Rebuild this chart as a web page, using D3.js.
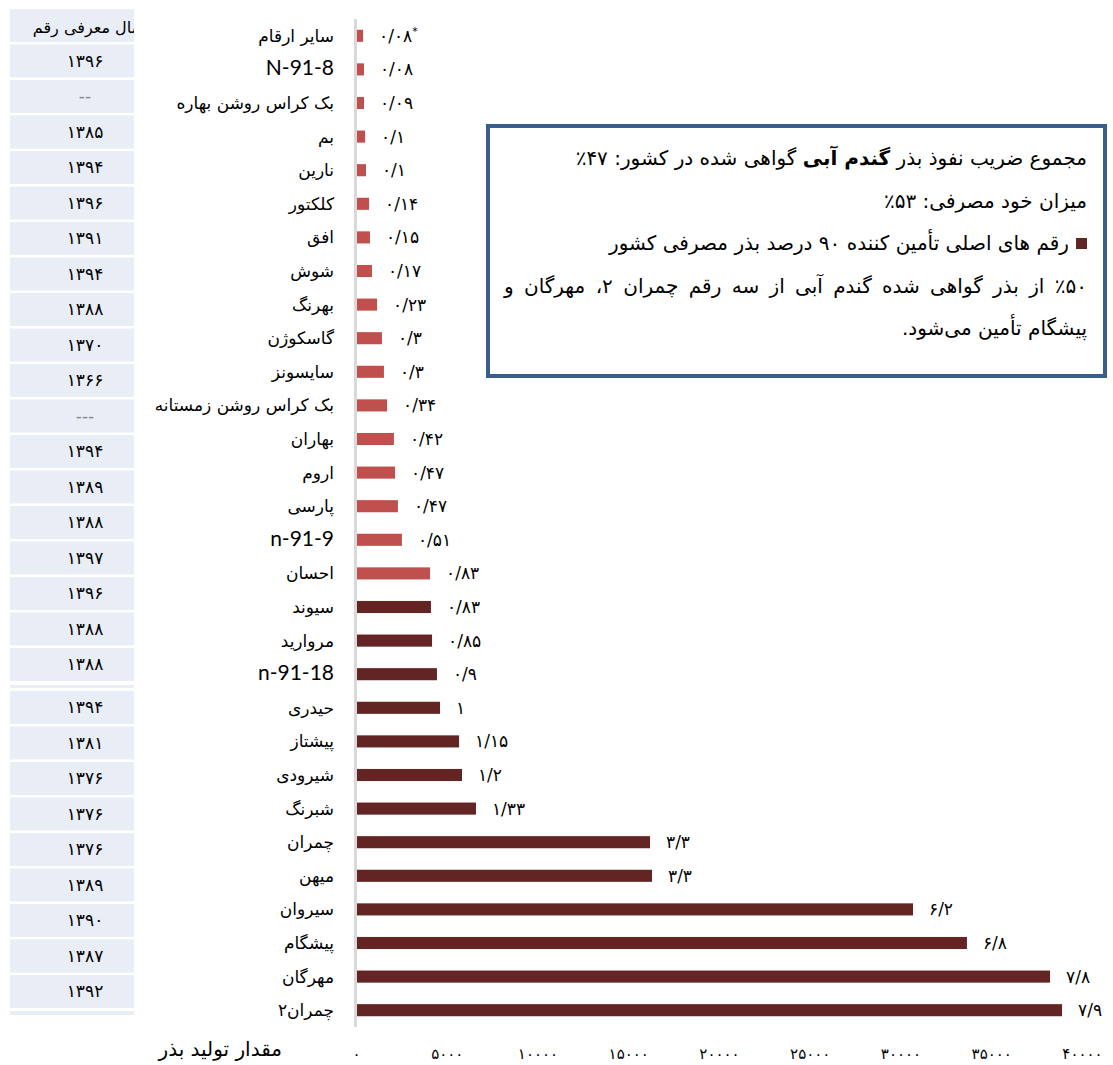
<!DOCTYPE html>
<html>
<head>
<meta charset="utf-8">
<script src="https://cdn.jsdelivr.net/npm/d3@7"></script>
<style>
  body { margin: 0; background: #fff; }
  #wrap { position: relative; width: 1113px; height: 1065px; overflow: hidden; }
  svg { position: absolute; left: 0; top: 0; }
  .fa { font-family: "DejaVu Sans", sans-serif; }
  #note { position: absolute; left: 486px; top: 124px; width: 621px; height: 254px; box-sizing: border-box;
          border: 4px solid #3a5e8c; background: #fff; padding: 9px 16px 0 14px;
          font-family: "DejaVu Sans", sans-serif; font-size: 20px; color: #000; direction: rtl; }
  #note div { height: 42.5px; line-height: 42.5px; white-space: nowrap; }
  #note .just { text-align: justify; text-align-last: justify; }
  #note .sq { display: inline-block; width: 11px; height: 11px; background: #632523; margin-left: 7px; vertical-align: 1px; }
</style>
</head>
<body>
<div id="wrap">
<svg id="chart" width="1113" height="1065"></svg>
<div id="note">
  <div>مجموع ضریب نفوذ بذر <b>گندم آبی</b> گواهی شده در کشور: ۴۷٪</div>
  <div>میزان خود مصرفی: ۵۳٪</div>
  <div><span class="sq"></span>رقم های اصلی تأمین کننده ۹۰ درصد بذر مصرفی کشور</div>
  <div class="just">٪۵۰ از بذر گواهی شده گندم آبی از سه رقم چمران ۲، مهرگان و</div>
  <div>پیشگام تأمین می‌شود.</div>
</div>
</div>
<script>
// varieties, top to bottom
var varieties = ["سایر ارقام", "N-91-8", "بک کراس روشن بهاره", "بم", "نارین", "کلکتور", "افق", "شوش",
  "بهرنگ", "گاسکوژن", "سایسونز", "بک کراس روشن زمستانه", "بهاران", "اروم", "پارسی", "n-91-9",
  "احسان", "سیوند", "مروارید", "n-91-18", "حیدری", "پیشتاز", "شیرودی", "شبرنگ", "چمران", "میهن",
  "سیروان", "پیشگام", "مهرگان", "چمران۲"];

// seed production
var production = [390, 440, 440, 500, 550, 720, 770, 880, 1160, 1430, 1540, 1710, 2090, 2150, 2310, 2530,
  4080, 4130, 4190, 4460, 4630, 5680, 5840, 6610, 16200, 16310, 30690, 33660, 38240, 38900];

// share labels (percent)
var shares = [0.08, 0.08, 0.09, 0.1, 0.1, 0.14, 0.15, 0.17, 0.23, 0.3, 0.3, 0.34, 0.42, 0.47, 0.47, 0.51,
  0.83, 0.83, 0.85, 0.9, 1, 1.15, 1.2, 1.33, 3.3, 3.3, 6.2, 6.8, 7.8, 7.9];

// main varieties (90% of consumed seed)
var mainVarieties = ["سیوند", "مروارید", "n-91-18", "حیدری", "پیشتاز", "شیرودی", "شبرنگ", "چمران", "میهن",
  "سیروان", "پیشگام", "مهرگان", "چمران۲"];

// side table: year of introduction
var tableHeader = "سال معرفی رقم";
var yearsBlock1 = ["1396", "--", "1385", "1394", "1396", "1391", "1394", "1388", "1370", "1366", "---",
  "1394", "1389", "1388", "1397", "1396", "1388", "1388"];
var yearsBlock2 = ["1394", "1381", "1376", "1376", "1376", "1389", "1390", "1387", "1392"];

var xTicks = [0, 5000, 10000, 15000, 20000, 25000, 30000, 35000, 40000];

function fa(s) {
  return String(s).replace(/\d/g, function(d) { return "۰۱۲۳۴۵۶۷۸۹"[+d]; });
}

var data = varieties.map(function(v, i) {
  return { name: v, value: production[i], share: shares[i] };
});

var svg = d3.select("#chart");

var xScale = d3.scaleLinear().domain([0, 40000]).range([356, 1082]),
    yScale = d3.scaleBand().domain(varieties).range([19, 1027]).paddingInner(0.64).paddingOuter(0.32);

// side table
var cellW = 124, cellH = 33, pitch = 35.5;
var tbl = svg.append("g").attr("transform", "translate(10,0)");
var clip = svg.append("clipPath").attr("id", "hdrclip");
clip.append("rect").attr("x", 10).attr("y", 9).attr("width", cellW).attr("height", cellH);

tbl.append("rect").attr("x", 0).attr("y", 9).attr("width", cellW).attr("height", cellH).attr("fill", "#e9edf5");
svg.append("text").attr("class", "fa")
  .attr("clip-path", "url(#hdrclip)")
  .attr("x", 145).attr("y", 33)
  .attr("text-anchor", "end")
  .style("font-size", "16px")
  .text(tableHeader);

function block(years, y0) {
  var g = tbl.append("g");
  var cells = g.selectAll("g").data(years).enter().append("g")
    .attr("transform", function(d, i) { return "translate(0," + (y0 + i * pitch) + ")"; });
  cells.append("rect").attr("width", cellW).attr("height", cellH).attr("fill", "#e9edf5");
  cells.append("text").attr("class", "fa")
    .attr("x", 75).attr("y", 22)
    .attr("text-anchor", "middle")
    .style("font-size", "17px")
    .attr("fill", function(d) { return d.indexOf("-") >= 0 ? "#888" : "#000"; })
    .text(function(d) { return fa(d); });
}
block(yearsBlock1, 9 + pitch);
tbl.append("rect").attr("x", 0).attr("y", 685).attr("width", cellW).attr("height", 3).attr("fill", "#e9edf5");
block(yearsBlock2, 691);
tbl.append("rect").attr("x", 0).attr("y", 1011).attr("width", cellW).attr("height", 4).attr("fill", "#e9edf5");

// bars
svg.selectAll(".bar").data(data).enter().append("rect")
  .attr("class", "bar")
  .attr("x", xScale(0))
  .attr("y", function(d) { return yScale(d.name); })
  .attr("width", function(d) { return xScale(d.value) - xScale(0); })
  .attr("height", yScale.bandwidth())
  .attr("fill", function(d) { return mainVarieties.indexOf(d.name) >= 0 ? "#632523" : "#c0504d"; });

// category axis line
svg.append("line")
  .attr("x1", 355.5).attr("x2", 355.5)
  .attr("y1", yScale.range()[0]).attr("y2", yScale.range()[1])
  .attr("stroke", "#d9d9d9").attr("stroke-width", 3);

// category labels
svg.selectAll(".cat").data(data).enter().append("text")
  .attr("class", "cat")
  .attr("x", 334)
  .attr("y", function(d) { return yScale(d.name) + yScale.bandwidth() / 2 + 6; })
  .attr("text-anchor", "end")
  .style("font-family", function(d) { return /[A-Za-z]/.test(d.name) ? "Lato, sans-serif" : "'DejaVu Sans', sans-serif"; })
  .style("font-size", function(d) { return /[A-Za-z]/.test(d.name) ? "21px" : "17px"; })
  .text(function(d) { return d.name; });

// value labels
var lbl = svg.selectAll(".val").data(data).enter().append("text")
  .attr("class", "val fa")
  .attr("x", function(d) { return xScale(d.value) + 16; })
  .attr("y", function(d) { return yScale(d.name) + yScale.bandwidth() / 2 + 6; })
  .style("font-size", "17px");
lbl.append("tspan").text(function(d) { return fa(String(d.share).replace(".", "/")); });
lbl.filter(function(d, i) { return i === 0; })
  .append("tspan").attr("dy", -7).style("font-size", "11px").text("*");

// x axis
var xAxis = svg.append("g")
  .attr("transform", "translate(0,1027)")
  .call(d3.axisBottom(xScale).tickValues(xTicks).tickSize(0).tickFormat(function(d) { return fa(d); }));
xAxis.select(".domain").remove();
xAxis.selectAll("text")
  .attr("class", "fa")
  .attr("y", 32).attr("dy", 0)
  .style("font-family", "'DejaVu Sans', sans-serif")
  .style("font-size", "15px")
  .style("letter-spacing", "2px")
  .attr("fill", "#000");

svg.append("text").attr("class", "fa")
  .attr("x", 282).attr("y", 1056)
  .attr("text-anchor", "end")
  .style("font-size", "20px")
  .text("مقدار تولید بذر");
</script>
</body>
</html>
